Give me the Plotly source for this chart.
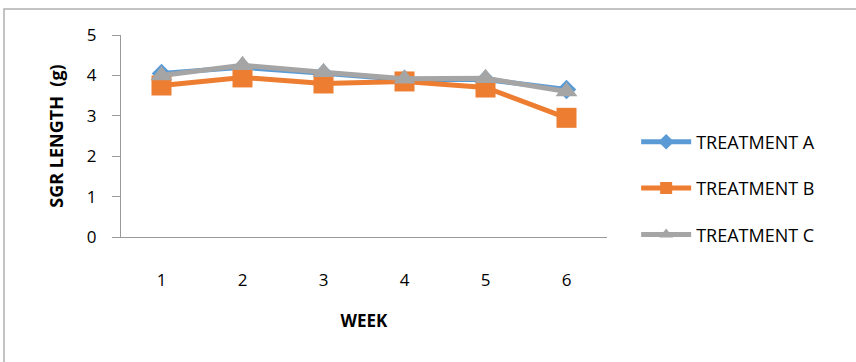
import plotly.graph_objects as go

weeks = ["1", "2", "3", "4", "5", "6"]
treatment_a = [4.05, 4.2, 4.05, 3.9, 3.9, 3.65]
treatment_b = [3.75, 3.95, 3.8, 3.85, 3.7, 2.95]
treatment_c = [4.0, 4.25, 4.08, 3.92, 3.93, 3.6]
y_ticks = [0, 1, 2, 3, 4, 5]

series = [
    ("TREATMENT A", treatment_a, "#5b9bd5", "diamond", 15),
    ("TREATMENT B", treatment_b, "#ed7d31", "square", 20),
    ("TREATMENT C", treatment_c, "#a5a5a5", "triangle-up", 19),
]

fig = go.Figure()
for i, (name, vals, color, symbol, size) in enumerate(series):
    fig.add_trace(go.Scatter(
        x=weeks, y=vals, name=name, mode="lines+markers",
        line=dict(color=color, width=5),
        marker=dict(symbol=symbol, size=size, color=color),
        legendgroup=f"g{i}",
    ))

font_family = "Open Sans, Liberation Sans, sans-serif"

fig.update_layout(
    width=856, height=362,
    margin=dict(l=121, r=249, t=35, b=125),
    paper_bgcolor="white", plot_bgcolor="white",
    font=dict(family=font_family, size=17, color="#000000"),
    showlegend=True,
    legend=dict(
        x=1.06, y=0.24, xanchor="left", yanchor="middle",
        font=dict(size=18, color="#000000"),
        tracegroupgap=20, itemsizing="constant", itemwidth=50,
    ),
    xaxis=dict(
        type="category", range=[-0.5, 5.5],
        showline=True, linecolor="#9a9a9a", linewidth=1,
        ticks="", showgrid=False, ticklabelstandoff=28,
        tickfont=dict(size=17),
        title=dict(text="<b>WEEK</b>", standoff=24, font=dict(size=17)),
    ),
    yaxis=dict(
        range=[0, 5], tickvals=y_ticks,
        showline=True, linecolor="#9a9a9a", linewidth=1,
        ticks="outside", ticklen=8, tickcolor="#9a9a9a",
        ticklabelstandoff=12, tickfont=dict(size=17),
        showgrid=False, zeroline=False,
        title=dict(text="<b>SGR LENGTH  (g)</b>", standoff=18, font=dict(size=18)),
    ),
)

# outer chart border
fig.add_shape(type="rect", xref="paper", yref="paper",
              x0=(4 - 121) / 486, x1=(870 - 121) / 486,
              y0=(237 - 380) / 202, y1=(237 - 9) / 202,
              line=dict(color="#b0b0b0", width=1.5), layer="below")

fig.write_html("out.html")
